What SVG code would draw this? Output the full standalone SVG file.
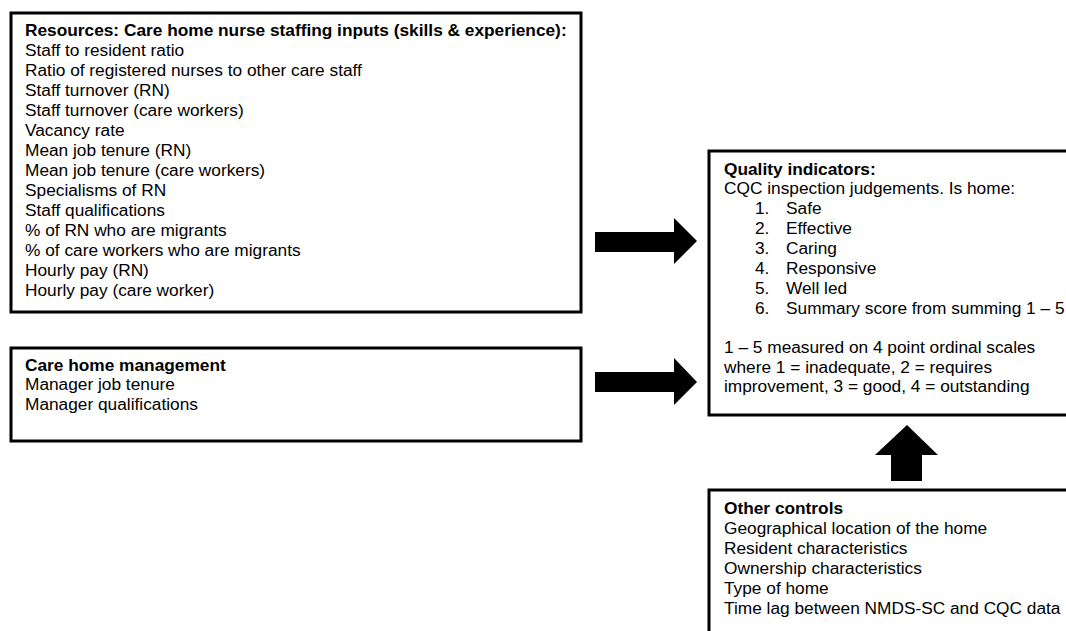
<svg xmlns="http://www.w3.org/2000/svg" width="1066" height="631" viewBox="0 0 1066 631">
<style>
.box{fill:#fff;stroke:#000;stroke-width:3}
text{font-family:"Liberation Sans",Arial,sans-serif;font-size:17.3px;fill:#000}
.b{font-weight:bold}
.arr{fill:#000}
</style>
<rect width="1066" height="631" fill="#fff"/>
<g id="resources">
<rect class="box" x="11" y="13" width="570" height="299"/>
<text class="b" x="25" y="36">Resources: Care home nurse staffing inputs (skills &amp; experience):</text>
<text x="25" y="56">Staff to resident ratio</text>
<text x="25" y="76">Ratio of registered nurses to other care staff</text>
<text x="25" y="96">Staff turnover (RN)</text>
<text x="25" y="116">Staff turnover (care workers)</text>
<text x="25" y="136">Vacancy rate</text>
<text x="25" y="156">Mean job tenure (RN)</text>
<text x="25" y="176">Mean job tenure (care workers)</text>
<text x="25" y="196">Specialisms of RN</text>
<text x="25" y="216">Staff qualifications</text>
<text x="25" y="236">% of RN who are migrants</text>
<text x="25" y="256">% of care workers who are migrants</text>
<text x="25" y="276">Hourly pay (RN)</text>
<text x="25" y="296">Hourly pay (care worker)</text>
</g>
<g id="management">
<rect class="box" x="11" y="348" width="570" height="93"/>
<text class="b" x="25" y="371">Care home management</text>
<text x="25" y="390">Manager job tenure</text>
<text x="25" y="410">Manager qualifications</text>
</g>
<g id="quality">
<rect class="box" x="709" y="151" width="400" height="264"/>
<text class="b" x="724" y="175">Quality indicators:</text>
<text x="724" y="194">CQC inspection judgements. Is home:</text>
<text x="755" y="214">1.</text><text x="786" y="214">Safe</text>
<text x="755" y="234">2.</text><text x="786" y="234">Effective</text>
<text x="755" y="254">3.</text><text x="786" y="254">Caring</text>
<text x="755" y="274">4.</text><text x="786" y="274">Responsive</text>
<text x="755" y="294">5.</text><text x="786" y="294">Well led</text>
<text x="755" y="314">6.</text><text x="786" y="314">Summary score from summing 1 – 5</text>
<text x="724" y="353">1 – 5 measured on 4 point ordinal scales</text>
<text x="724" y="373">where 1 = inadequate, 2 = requires</text>
<text x="724" y="392">improvement, 3 = good, 4 = outstanding</text>
</g>
<g id="controls">
<rect class="box" x="709" y="490" width="400" height="200"/>
<text class="b" x="724" y="514">Other controls</text>
<text x="724" y="534">Geographical location of the home</text>
<text x="724" y="554">Resident characteristics</text>
<text x="724" y="574">Ownership characteristics</text>
<text x="724" y="594">Type of home</text>
<text x="724" y="614">Time lag between NMDS-SC and CQC data</text>
</g>
<g id="connectors">
<polygon class="arr" points="595,232 674,232 674,218 697,241 674,264 674,252 595,252"/>
<polygon class="arr" points="595,372 674,372 674,358 697,382 674,405 674,392 595,392"/>
<polygon class="arr" points="891,481 891,455 875,455 907,425 938,455 922,455 922,481"/>
</g>
</svg>
